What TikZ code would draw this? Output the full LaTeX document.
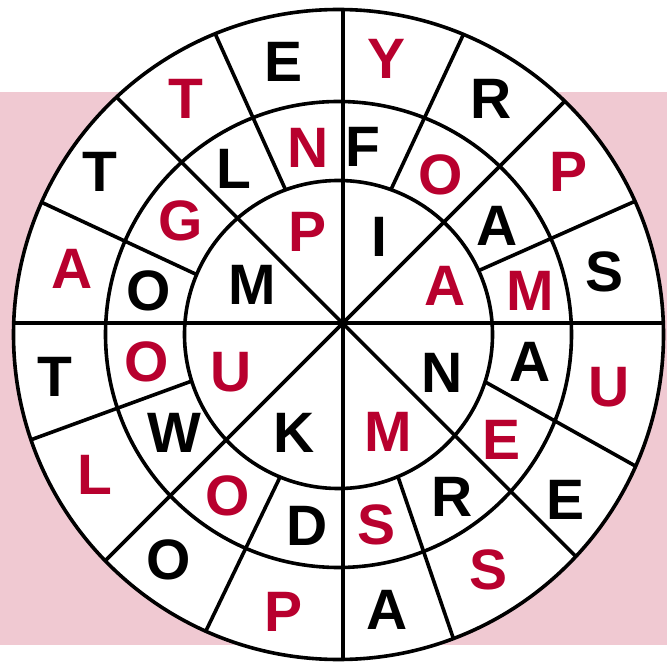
\documentclass[tikz,border=0pt]{standalone}
\usepackage{fontspec}
\setmainfont{Liberation Sans}
\usepackage{tikz}
\definecolor{bandcolor}{RGB}{240,201,210}
\definecolor{wordred}{RGB}{184,0,46}

\begin{document}
\begin{tikzpicture}[
        x=1pt, y=1pt,
        ring/.style={line width=3.6pt, draw=black},
        letter/.style={font=\fontsize{57}{57}\selectfont\bfseries, inner sep=0pt, text=black},
        redletter/.style={letter, text=wordred}
    ]
        \useasboundingbox (0,0) rectangle (667,662);
        \fill[bandcolor] (0,17) rectangle (667,570);

        \coordinate (C) at (338.5,327.5);
        \coordinate (O) at (342.7,338.7);
        \fill[white] (C) circle (325);

        \foreach \a/\b in {24.5/24.2, 70.1/67.4, 110.1/112.3, 157.1/156, 197.6/198.9, 247.7/245.9, 292.7/290.7, 342.1/336.1}
            \draw[ring] ([shift={(\a:154)}]C) -- ([shift={(\b:325)}]C);
        \begin{scope}
            \clip (C) circle (325);
            \foreach \a in {0,45,...,315}
                \draw[ring] (O) -- ++(\a:420);
        \end{scope}
        \draw[ring] (C) circle (154);
        \draw[ring] (C) circle (233);
        \draw[ring] (C) circle (325);

        \node[redletter] (in1) at (444.7,376.3) {A};
        \node[letter] (in2) at (379.7,425.3) {I};
        \node[redletter] (in3) at (307.3,429.7) {P};
        \node[letter] (in4) at (252.3,377) {M};
        \node[redletter] (in5) at (230.7,290.3) {U};
        \node[letter] (in6) at (294,228.7) {K};
        \node[redletter] (in7) at (388.7,230.3) {M};
        \node[letter] (in8) at (442,288.7) {N};

        \node[redletter] (mid1) at (530.3,371.3) {M};
        \node[letter] (mid2) at (497,436.3) {A};
        \node[redletter] (mid3) at (440.3,487) {O};
        \node[letter] (mid4) at (363,515.3) {F};
        \node[redletter] (mid5) at (308.3,513.7) {N};
        \node[letter] (mid6) at (234,493) {L};
        \node[redletter] (mid7) at (180.7,441.3) {G};
        \node[letter] (mid8) at (149,371.3) {O};
        \node[redletter] (mid9) at (146.7,300.3) {O};
        \node[letter] (mid10) at (174,228.7) {W};
        \node[redletter] (mid11) at (227.3,166) {O};
        \node[letter] (mid12) at (306.7,136) {D};
        \node[redletter] (mid13) at (377,137) {S};
        \node[letter] (mid14) at (452,165.3) {R};
        \node[redletter] (mid15) at (502,222) {E};
        \node[letter] (mid16) at (529.7,300.3) {A};

        \node[letter] (out1) at (604.7,389.7) {S};
        \node[redletter] (out2) at (568.7,489.7) {P};
        \node[letter] (out3) at (491.3,563) {R};
        \node[redletter] (out4) at (387,603) {Y};
        \node[letter] (out5) at (284,600.3) {E};
        \node[redletter] (out6) at (185.7,563) {T};
        \node[letter] (out7) at (100,489.7) {T};
        \node[redletter] (out8) at (72.3,393) {A};
        \node[letter] (out9) at (55,285.3) {T};
        \node[redletter] (out10) at (95,187) {L};
        \node[letter] (out11) at (169,102) {O};
        \node[redletter] (out12) at (284,50.3) {P};
        \node[letter] (out13) at (387,52) {A};
        \node[redletter] (out14) at (488.7,92) {S};
        \node[letter] (out15) at (565.3,162) {E};
        \node[redletter] (out16) at (608.7,275.3) {U};
    \end{tikzpicture}
\end{document}
